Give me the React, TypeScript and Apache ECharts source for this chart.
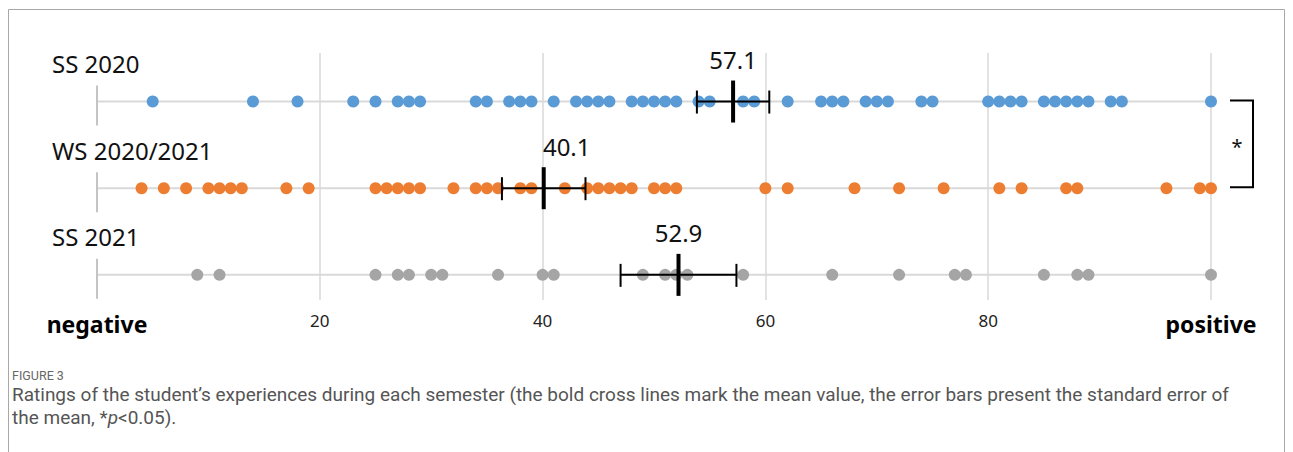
import React, { useEffect, useRef } from "react";
import * as echarts from "echarts";

const categories = ["SS 2020", "WS 2020/2021", "SS 2021"];
const rowIndex = [1, 2, 3];
const ss2020 = [5, 14, 18, 23, 25, 27, 28, 29, 34, 35, 37, 38, 39, 41, 43, 44, 45, 46, 48, 49, 50, 51, 52, 54, 55, 58, 59, 62, 65, 66, 67, 69, 70, 71, 74, 75, 80, 81, 82, 83, 85, 86, 87, 88, 89, 91, 92, 100];
const ws2021 = [4, 6, 8, 10, 11, 12, 13, 17, 19, 25, 26, 27, 28, 29, 32, 34, 35, 36, 38, 39, 42, 44, 45, 46, 47, 48, 50, 51, 52, 60, 62, 68, 72, 76, 81, 83, 87, 88, 96, 99, 100];
const ss2021 = [9, 11, 25, 27, 28, 30, 31, 36, 40, 41, 49, 51, 52, 53, 58, 66, 72, 77, 78, 85, 88, 89, 100];
const meanValues = [57.1, 40.1, 52.2];
const meanLabels = ["57.1", "40.1", "52.9"];
const seValues = [3.25, 3.75, 5.2];
const xTicks = [0, 20, 40, 60, 80, 100];
const endLabels = ["negative", "positive"];
const seriesColors = ["#5b9bd5", "#ed7d31", "#a5a5a5"];
const significance = [[1, 2, "*"]];

const FONT = "'Noto Sans', 'DejaVu Sans', sans-serif";
const CAP_FONT = "Roboto, 'Open Sans', sans-serif";
const labelDx = [0, 23, 0];

export default function App() {
  const ref = useRef<HTMLDivElement>(null);
  useEffect(() => {
    if (!ref.current) return;
    const chart = echarts.init(ref.current, undefined, { renderer: "svg" });
    const groups = [ss2020, ws2021, ss2021];
    const scatterSeries = groups.map((vals, i) => ({
      type: "scatter",
      name: categories[i],
      data: vals.map((v) => [v, rowIndex[i]]),
      symbol: "circle",
      symbolSize: 12,
      clip: false,
      z: 3,
      itemStyle: { color: seriesColors[i], opacity: 1 },
    }));

    const option: any = {
      animation: false,
      grid: { left: 97, right: 82, top: 53, bottom: 152, containLabel: false, outerBoundsMode: "none" },
      xAxis: {
        type: "value",
        min: 0,
        max: 100,
        interval: 20,
        axisLine: { show: false },
        axisTick: { show: false },
        splitLine: { show: true, showMinLine: false, lineStyle: { color: "#d9d9d9", width: 1.5 } },
        axisLabel: {
          margin: 12,
          color: "#222",
          fontFamily: FONT,
          fontSize: 17,
          showMinLabel: true,
          showMaxLabel: true,
          formatter: (v: number) => {
            if (v === xTicks[0]) return "{b|" + endLabels[0] + "}";
            if (v === xTicks[xTicks.length - 1]) return "{b|" + endLabels[1] + "}";
            return String(v);
          },
          rich: {
            b: { fontSize: 23, fontWeight: "bold", color: "#000", fontFamily: FONT },
          },
        },
      },
      yAxis: {
        type: "value",
        min: 0.44,
        max: 3.29,
        inverse: true,
        show: false,
        splitLine: { show: false },
      },
      series: [
        {
          type: "custom",
          z: 1,
          clip: false,
          encode: { x: 0, y: 1 },
          data: rowIndex.map((r) => [0, r, 100]),
          renderItem: (params: any, api: any) => {
            const p0 = api.coord([api.value(0), api.value(1)]);
            const p1 = api.coord([api.value(2), api.value(1)]);
            return {
              type: "group",
              children: [
                {
                  type: "line",
                  shape: { x1: p0[0], y1: p0[1], x2: p1[0], y2: p1[1] },
                  style: { stroke: "#d9d9d9", lineWidth: 2 },
                },
                {
                  type: "line",
                  shape: { x1: p0[0], y1: p0[1] - 16, x2: p0[0], y2: p0[1] + 24 },
                  style: { stroke: "#c4c4c4", lineWidth: 2 },
                },
                {
                  type: "text",
                  x: p0[0] - 45,
                  y: p0[1] - 38,
                  style: {
                    text: categories[params.dataIndex],
                    fontFamily: FONT,
                    fontSize: 24,
                    fill: "#111",
                    align: "left",
                    verticalAlign: "middle",
                  },
                },
              ],
            };
          },
        },
        ...scatterSeries,
        {
          type: "custom",
          z: 5,
          clip: false,
          encode: { x: 0, y: 1 },
          data: meanValues.map((m, i) => [m, rowIndex[i], seValues[i]]),
          renderItem: (params: any, api: any) => {
            const m = api.value(0);
            const r = api.value(1);
            const se = api.value(2);
            const pm = api.coord([m, r]);
            const pl = api.coord([m - se, r]);
            const pr = api.coord([m + se, r]);
            const i = params.dataIndex;
            return {
              type: "group",
              children: [
                { type: "line", shape: { x1: pl[0], y1: pl[1], x2: pr[0], y2: pr[1] }, style: { stroke: "#000", lineWidth: 2 } },
                { type: "line", shape: { x1: pl[0], y1: pl[1] - 11, x2: pl[0], y2: pl[1] + 12 }, style: { stroke: "#000", lineWidth: 2 } },
                { type: "line", shape: { x1: pr[0], y1: pr[1] - 11, x2: pr[0], y2: pr[1] + 12 }, style: { stroke: "#000", lineWidth: 2 } },
                { type: "line", shape: { x1: pm[0], y1: pm[1] - 21, x2: pm[0], y2: pm[1] + 21 }, style: { stroke: "#000", lineWidth: 4 } },
                {
                  type: "text",
                  x: pm[0] + labelDx[i],
                  y: pm[1] - 42,
                  style: {
                    text: meanLabels[i],
                    fontFamily: FONT,
                    fontSize: 24,
                    fill: "#111",
                    align: "center",
                    verticalAlign: "middle",
                  },
                },
              ],
            };
          },
        },
        {
          type: "custom",
          z: 5,
          clip: false,
          encode: { x: 0, y: 1 },
          data: significance.map((s) => [100, s[0], s[1]]),
          renderItem: (params: any, api: any) => {
            const a = api.coord([api.value(0), api.value(1)]);
            const b = api.coord([api.value(0), api.value(2)]);
            const xl = a[0] + 19;
            const xr = a[0] + 42;
            return {
              type: "group",
              children: [
                {
                  type: "polyline",
                  shape: { points: [[xl, a[1] - 1], [xr, a[1] - 1], [xr, b[1] - 1], [xl, b[1] - 1]] },
                  style: { stroke: "#000", lineWidth: 2, fill: null },
                },
                {
                  type: "text",
                  x: a[0] + 26,
                  y: (a[1] + b[1]) / 2 + 2,
                  style: {
                    text: String(significance[params.dataIndex][2]),
                    fontFamily: FONT,
                    fontSize: 20,
                    fill: "#111",
                    align: "center",
                    verticalAlign: "middle",
                  },
                },
              ],
            };
          },
        },
      ],
      graphic: [
        {
          type: "rect",
          shape: { x: 8.5, y: 9.5, width: 1276, height: 480 },
          style: { fill: null, stroke: "#a8a8a8", lineWidth: 1 },
          silent: true,
        },
        {
          type: "text",
          x: 12,
          y: 375,
          style: {
            text: "FIGURE 3",
            fontFamily: CAP_FONT,
            fontSize: 12.5,
            fill: "#666",
            verticalAlign: "middle",
          },
        },
        {
          type: "text",
          x: 12,
          y: 382.5,
          style: {
            text:
              "Ratings of the student\u2019s experiences during each semester (the bold cross lines mark the mean value, the error bars present the standard error of\nthe mean, *{i|p}<0.05).",
            fontFamily: CAP_FONT,
            fontSize: 19,
            lineHeight: 23,
            fill: "#555",
            verticalAlign: "top",
            rich: { i: { fontStyle: "italic", fontFamily: CAP_FONT, fontSize: 19, lineHeight: 23, fill: "#555" } },
          },
        },
      ],
    };
    chart.setOption(option);
    return () => chart.dispose();
  }, []);
  return (
    <div
      ref={ref}
      style={{ position: "fixed", left: 0, top: 0, width: 1293, height: 452, background: "#fff" }}
    />
  );
}
